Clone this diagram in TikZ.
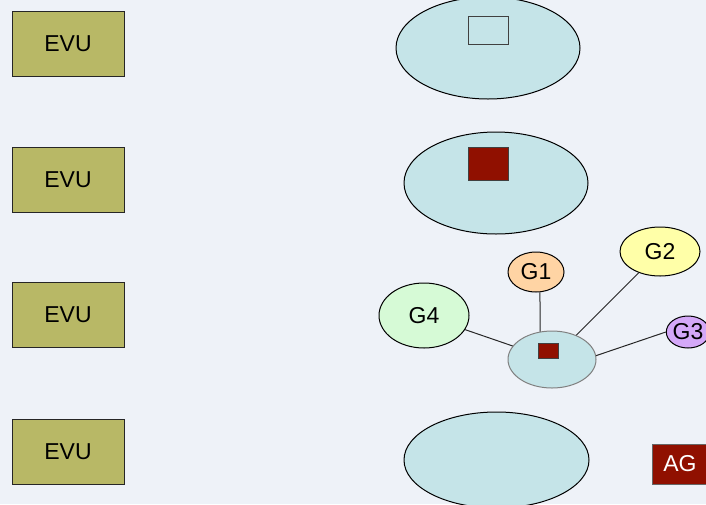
\documentclass[tikz,border=0pt]{standalone}
\usepackage{fontspec}
\setmainfont{Liberation Sans}
\usetikzlibrary{shapes.geometric}
\definecolor{bgc}{HTML}{EEF2F8}
\definecolor{ellc}{HTML}{C5E4E8}
\definecolor{evuc}{HTML}{B8B866}
\definecolor{redc}{HTML}{901000}
\definecolor{gonec}{HTML}{FFD4A4}
\definecolor{gtwoc}{HTML}{FFFFA8}
\definecolor{gthreec}{HTML}{D4A8F8}
\definecolor{gfourc}{HTML}{D6FAD6}
\tikzset{
  evubox/.style={draw=black!85, line width=1pt, fill=evuc, minimum width=112pt, minimum height=65pt, inner sep=0pt, font=\fontsize{23}{27}\selectfont},
  bigell/.style={ellipse, draw=black, line width=1pt, fill=ellc, inner sep=0pt},
  gell/.style={ellipse, draw=black, line width=1pt, inner sep=0pt, font=\fontsize{23}{27}\selectfont},
  sq/.style={draw=black!75, line width=1pt, inner sep=0pt},
  link/.style={draw=black!85, line width=1pt}
}
\begin{document}
\begin{tikzpicture}[x=1pt,y=-1pt]
\useasboundingbox (0,0) rectangle (706,504);
\fill[bgc] (0,0) rectangle (706,504);
% EVU boxes
\node[evubox] (evu1) at (68,43.5) {EVU};
\node[evubox] (evu2) at (68,179.5) {EVU};
\node[evubox] (evu3) at (68,315) {EVU};
\node[evubox] (evu4) at (68,451.5) {EVU};
% big ellipses
\node[bigell, minimum width=184pt, minimum height=102pt] (e1) at (488,48) {};
\node[sq, fill=ellc, minimum width=40pt, minimum height=28pt] (r1) at (488,30) {};
\node[bigell, minimum width=184pt, minimum height=102pt] (e2) at (496,183) {};
\node[sq, fill=redc, minimum width=40pt, minimum height=33pt] (r2) at (488,163.5) {};
\node[bigell, minimum width=185pt, minimum height=96pt] (e4) at (496.5,460) {};
% small graph
\node[gell, fill=gonec, minimum width=56pt, minimum height=40pt] (g1) at (536,272) {G1};
\node[gell, fill=gtwoc, minimum width=80pt, minimum height=49pt] (g2) at (660,251.5) {G2};
\node[gell, fill=gthreec, minimum width=40pt, minimum height=32pt] (g3) at (688,332) {G3};
\node[gell, fill=gfourc, minimum width=90pt, minimum height=65pt] (g4) at (424,315.5) {G4};
\node[ellipse, draw=black!50, line width=1pt, fill=ellc, inner sep=0pt, minimum width=88pt, minimum height=57pt] (c) at (552,359.5) {};
\node[sq, fill=redc, minimum width=20pt, minimum height=15pt] (r3) at (548,350.5) {};
\draw[link] (g1.-79) -- (c.113);
\draw[link] (g2) -- (c);
\draw[link] (g3.west) -- (c.5);
\draw[link] (g4) -- (c);
% AG
\node[draw=black!60, line width=1pt, fill=redc, text=white, minimum width=56pt, minimum height=40pt, inner sep=0pt, font=\fontsize{23}{27}\selectfont] (ag) at (680,464) {AG};
\end{tikzpicture}
\end{document}
